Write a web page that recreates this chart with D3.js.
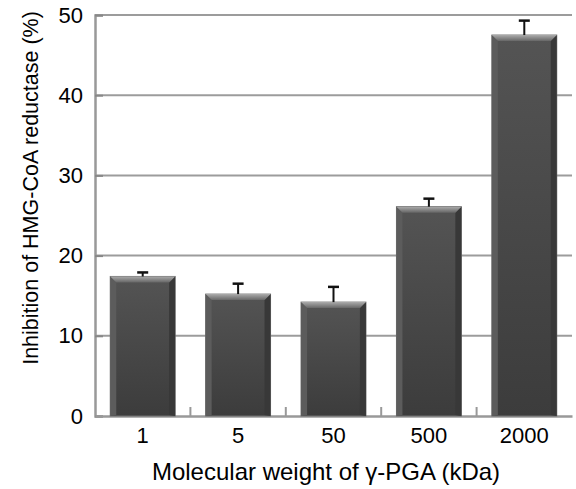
<!DOCTYPE html>
<html>
<head>
<meta charset="utf-8">
<script src="https://cdn.jsdelivr.net/npm/d3@7"></script>
<style>
  body { margin: 0; background: #fff; }
  text { font-family: Arial, "Liberation Sans", sans-serif; fill: #000; }
</style>
</head>
<body>
<svg width="576" height="489"></svg>
<script>
// Data.
var categories = ['1', '5', '50', '500', '2000'];
var inhibition = [17.4, 15.2, 14.2, 26.1, 47.5];
var errors = [0.5, 1.3, 1.9, 1.0, 1.8];
var yTicks = [0, 10, 20, 30, 40, 50];

var data = categories.map(function(c, i) {
  return {mw: c, value: inhibition[i], err: errors[i]};
});

var svg = d3.select('svg');
var margin = {top: 15, right: 4, bottom: 73, left: 95};
var width = 576 - margin.left - margin.right;
var height = 489 - margin.top - margin.bottom;
var graphic = svg.append('g').attr('transform', 'translate(' + margin.left + ',' + margin.top + ')');

var x = d3.scaleBand().domain(categories).range([0, width]).padding(0);
var y = d3.scaleLinear().domain([0, 50]).range([height, 0]);

// Gradients for the bevelled bars.
var defs = svg.append('defs');
var bodyGrad = defs.append('linearGradient').attr('id', 'barBody').attr('x1', 0).attr('y1', 0).attr('x2', 0).attr('y2', 1);
bodyGrad.append('stop').attr('offset', '0%').attr('stop-color', '#545454');
bodyGrad.append('stop').attr('offset', '100%').attr('stop-color', '#3c3c3c');
var topGrad = defs.append('linearGradient').attr('id', 'barTop').attr('x1', 0).attr('y1', 0).attr('x2', 0).attr('y2', 1);
topGrad.append('stop').attr('offset', '0%').attr('stop-color', '#aaaaaa');
topGrad.append('stop').attr('offset', '100%').attr('stop-color', '#666666');

// Gridlines.
graphic.append('g')
  .selectAll('line')
  .data(yTicks.slice(1))
  .enter().append('line')
  .attr('x1', 0)
  .attr('x2', width)
  .attr('y1', function(d) { return y(d); })
  .attr('y2', function(d) { return y(d); })
  .attr('stroke', '#9c9c9c')
  .attr('stroke-width', 2);

// Axes.
var yAxis = graphic.append('g')
  .call(d3.axisLeft(y).tickValues(yTicks).tickSize(-8).tickPadding(20));
yAxis.select('.domain').attr('stroke', '#999').attr('stroke-width', 2.5);
yAxis.selectAll('.tick line').attr('stroke', '#888').attr('stroke-width', 2);
yAxis.selectAll('.tick text').attr('x', -12).style('font-size', '22px').style('font-family', 'Arial, "Liberation Sans", sans-serif');

var xAxis = graphic.append('g')
  .attr('transform', 'translate(0,' + height + ')')
  .call(d3.axisBottom(x).tickSize(0).tickPadding(10));
xAxis.select('.domain').attr('stroke', '#999').attr('stroke-width', 2.5);
xAxis.selectAll('.tick text').attr('y', 11).attr('dy', '0.71em').style('font-size', '22px').style('font-family', 'Arial, "Liberation Sans", sans-serif');

// Small category separators on the baseline.
graphic.append('g')
  .selectAll('line')
  .data(categories.slice(1))
  .enter().append('line')
  .attr('x1', function(d) { return x(d); })
  .attr('x2', function(d) { return x(d); })
  .attr('y1', height)
  .attr('y2', height - 9)
  .attr('stroke', '#999')
  .attr('stroke-width', 2);

// Bars.
var barW = x.bandwidth() * 0.68;
var bev = 6;
var bars = graphic.append('g')
  .selectAll('g')
  .data(data)
  .enter().append('g')
  .attr('transform', function(d) { return 'translate(' + (x(d.mw) + (x.bandwidth() - barW) / 2) + ',0)'; });

bars.append('rect')
  .attr('x', 0)
  .attr('y', function(d) { return y(d.value); })
  .attr('width', barW)
  .attr('height', function(d) { return height - y(d.value); })
  .attr('fill', 'url(#barBody)')
  .attr('stroke', '#6e6e6e')
  .attr('stroke-width', 1);

// left bevel
bars.append('path')
  .attr('d', function(d) {
    var t = y(d.value);
    return 'M0,' + t + 'L' + bev + ',' + (t + bev) + 'L' + bev + ',' + (height - 1) + 'L0,' + height + 'Z';
  })
  .attr('fill', '#5c5c5c');

// right bevel
bars.append('path')
  .attr('d', function(d) {
    var t = y(d.value);
    return 'M' + barW + ',' + t + 'L' + (barW - bev) + ',' + (t + bev) + 'L' + (barW - bev) + ',' + (height - 1) + 'L' + barW + ',' + height + 'Z';
  })
  .attr('fill', '#383838');

// top bevel
bars.append('path')
  .attr('d', function(d) {
    var t = y(d.value);
    return 'M0,' + t + 'L' + barW + ',' + t + 'L' + (barW - bev) + ',' + (t + bev) + 'L' + bev + ',' + (t + bev) + 'Z';
  })
  .attr('fill', 'url(#barTop)');

// Error bars (upper only).
bars.append('line')
  .attr('x1', barW / 2)
  .attr('x2', barW / 2)
  .attr('y1', function(d) { return y(d.value); })
  .attr('y2', function(d) { return y(d.value + d.err); })
  .attr('stroke', '#111')
  .attr('stroke-width', 2);

bars.append('line')
  .attr('x1', barW / 2 - 5.5)
  .attr('x2', barW / 2 + 5.5)
  .attr('y1', function(d) { return y(d.value + d.err); })
  .attr('y2', function(d) { return y(d.value + d.err); })
  .attr('stroke', '#111')
  .attr('stroke-width', 2.5);

// Axis titles.
svg.append('text')
  .attr('x', 326)
  .attr('y', 480)
  .attr('text-anchor', 'middle')
  .style('font-size', '24px')
  .text('Molecular weight of \u03b3-PGA (kDa)');

svg.append('text')
  .attr('transform', 'translate(38,188) rotate(-90)')
  .attr('text-anchor', 'middle')
  .style('font-size', '21.5px')
  .text('Inhibition of HMG-CoA reductase (%)');
</script>
</body>
</html>
